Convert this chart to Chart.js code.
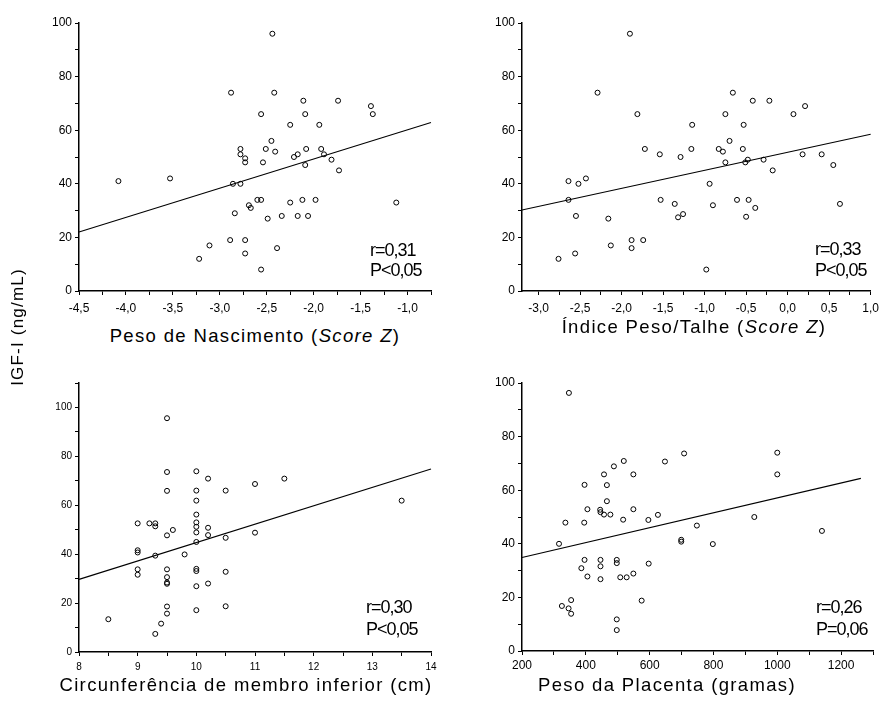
<!DOCTYPE html>
<html><head><meta charset="utf-8">
<script src="https://cdn.jsdelivr.net/npm/chart.js@4"></script>
<style>
html,body{margin:0;padding:0;background:#fff;}
#wrap{position:relative;width:885px;height:703px;overflow:hidden;font-family:Arial,"Liberation Sans",sans-serif;color:#000;}
canvas{position:absolute;}
.t{position:absolute;font-size:18.5px;line-height:20px;letter-spacing:1.35px;white-space:nowrap;transform:translateX(-50%);}
.a{position:absolute;font-size:18px;letter-spacing:-1px;white-space:nowrap;}
.yl{position:absolute;left:-57px;top:317px;width:150px;height:20px;line-height:20px;text-align:center;font-size:17px;letter-spacing:1.2px;transform:rotate(-90deg);white-space:nowrap;}
</style></head>
<body>
<div id="wrap">
<canvas id="c1" width="442" height="320" style="left:0px;top:0px;width:442px;height:320px"></canvas>
<canvas id="c2" width="443" height="320" style="left:442px;top:0px;width:443px;height:320px"></canvas>
<canvas id="c3" width="442" height="320" style="left:0px;top:355px;width:442px;height:320px"></canvas>
<canvas id="c4" width="443" height="320" style="left:442px;top:355px;width:443px;height:320px"></canvas>

<div class="t" style="left:255px;top:326px">Peso de Nascimento (<i>Score Z</i>)</div>
<div class="t" style="left:694px;top:317px">Índice Peso/Talhe (<i>Score Z</i>)</div>
<div class="t" style="left:246px;top:675px">Circunferência de membro inferior (cm)</div>
<div class="t" style="left:667px;top:675px">Peso da Placenta (gramas)</div>
<div class="yl">IGF-I (ng/mL)</div>

<div class="a" style="left:370px;top:240px;line-height:20px">r=0,31<br>P&lt;0,05</div>
<div class="a" style="left:815px;top:239px;line-height:21px">r=0,33<br>P&lt;0,05</div>
<div class="a" style="left:366px;top:596px;line-height:22px">r=0,30<br>P&lt;0,05</div>
<div class="a" style="left:816px;top:596px;line-height:22px">r=0,26<br>P=0,06</div>
</div>
<script>
// ---- Panel 1: Peso de Nascimento (Score Z) vs IGF-I
const p1x = [-4.08,-3.53,-2.88,-2.86,-2.84,-2.89,-3.11,-3.22,-2.44,-2.42,
             -2.11,-1.74,-1.39,-1.37,-2.56,-2.09,-2.25,-1.94,-2.45,-2.78,
             -2.51,-2.78,-2.41,-2.08,-1.92,-2.21,-2.17,-1.89,-2.73,-2.73,
             -2.54,-2.09,-1.81,-1.73,-2.78,-2.60,-2.56,-2.25,-2.12,-1.98,
             -1.12,-2.69,-2.67,-2.49,-2.34,-2.17,-2.06,-2.73,-2.73,-2.39,-2.56];
const p1y = [41,42,74,40,29,19,17,12,96,74,
             71,71,69,66,66,66,62,62,56,53,
             53,51,52,53,53,50,51,51,49.5,48,
             48,47,49,45,40,34,34,33,34,34,
             33,32,31,27,28,28,28,19,14,16,8];
const fit1x = [-4.5, -0.75];
const fit1y = [22, 62.9];

// ---- Panel 2: Índice Peso/Talhe (Score Z) vs IGF-I
const p2x = [-1.90,-2.29,-1.81,-1.72,-1.54,-2.64,-2.52,-2.43,-2.64,-1.53,
             -2.55,-2.16,-2.76,-2.56,-2.13,-1.88,-1.88,-1.74,-0.66,-0.42,
             -0.22,0.21,0.07,-0.75,-1.15,-0.53,-0.70,-1.16,-0.83,-0.78,
             -0.54,-1.29,-0.75,-0.51,-0.48,-0.29,0.18,0.41,0.55,-0.18,
             -0.94,-1.36,-0.90,-0.61,-0.47,-0.39,0.63,-1.32,-1.26,-0.50,-0.98];
const p2y = [96,74,66,53,51,41,40,42,34,34,
             28,27,12,14,17,19,16,19,74,71,
             71,69,66,66,62,62,56,53,53,52,
             53,50,48,48,49,49,51,51,47,45,
             40,32.5,32,34,34,31,32.5,27.5,28.7,27.7,8];
const fit2x = [-3.2, 1.0];
const fit2y = [30.2, 58.5];

// ---- Panel 3: Circunferência de membro inferior (cm) vs IGF-I
const p3x = [8.5,9.5,9.5,9.5,10,10.2,10,10.5,10,10,
             10,10,10,10.2,10.2,10,10.5,9.0,9.2,9.3,
             9.3,9.5,9.6,9.0,9.0,9.3,9.8,9.0,9.0,9.5,
             9.5,9.5,9.5,10,10,10,10.2,10.5,9.5,9.5,
             10,10.5,9.4,9.3,11,11.5,13.5,11];
const p3y = [13.4,95.6,73.6,65.9,73.9,70.9,66,66,61.9,56.2,
             53,51.2,48.9,50.8,47.8,45,46.7,52.6,52.6,52.6,
             51.4,47.7,49.9,41.6,40.7,39.4,39.9,33.8,31.6,33.8,
             30.6,28.4,27.9,34,33.1,26.9,28,32.8,18.6,15.7,
             17.1,18.7,11.6,7.4,68.7,70.9,61.9,48.8];
const fit3x = [8, 14];
const fit3y = [29.7, 74.8];

// ---- Panel 4: Peso da Placenta (gramas) vs IGF-I
const p4x = [347,519,488,457,549,648,396,466,466,336,
             395,405,445,446,457,477,549,517,596,626,
             316,396,386,405,446,446,446,497,497,508,
             528,549,597,575,325,346,354,354,497,497,
             708,1000,1000,928,748,699,699,798,1140];
const p4y = [96.3,70.9,68.9,65.9,65.9,70.7,62,61.9,55.9,47.9,
             47.9,52.9,52.7,51.8,50.9,50.9,52.9,49,48.9,50.8,
             40,34,30.9,27.8,34,31.6,26.8,34,32.8,27.5,
             27.5,28.9,32.6,18.8,16.8,15.9,19,13.9,11.8,7.8,
             73.7,74,65.9,50,46.8,41.5,40.8,39.9,44.8];
const fit4x = [200, 1262];
const fit4y = [34.9, 64.4];

// ---- tick labels
const yLabels = [0,20,40,60,80,100];
const x1Labels = [-4.5,-4.0,-3.5,-3.0,-2.5,-2.0,-1.5,-1.0];
const x2Labels = [-3.0,-2.5,-2.0,-1.5,-1.0,-0.5,0.0,0.5,1.0];
const x3Labels = [8,9,10,11,12,13,14];
const x4Labels = [200,400,600,800,1000,1200];

function steps(a, b, s) { const r = []; for (let v = a; v <= b + 1e-9; v += s) r.push(Math.round(v * 1000) / 1000); return r; }
const FONT = 'Arial, "Liberation Sans", sans-serif';
const hasVal = (arr, v) => arr.some(a => Math.abs(a - v) < 1e-6);
const fmtDec = v => (Math.abs(v) < 1e-9 ? 0 : v).toFixed(1).replace('.', ',');
const fmtInt = v => String(Math.round(v));

function pts(xs, ys) { return xs.map((x, i) => ({ x: x, y: ys[i] })); }

function axis(cfg) {
  return {
    type: 'linear', min: cfg.min, max: cfg.max,
    afterBuildTicks: s => { s.ticks = cfg.ticks.map(v => ({ value: v })); },
    afterFit: s => { if (cfg.w !== undefined) s.width = cfg.w; if (cfg.h !== undefined) s.height = cfg.h; },
    ticks: {
      autoSkip: false, maxRotation: 0, minRotation: 0, padding: cfg.pad, color: '#000',
      font: { family: FONT, size: cfg.fs },
      callback: v => hasVal(cfg.labels, v) ? cfg.fmt(v) : ''
    },
    grid: { drawOnChartArea: false, drawTicks: true, tickLength: 4, color: '#000', tickColor: '#000', lineWidth: 1 },
    border: { display: true, color: '#000', width: 1.5 }
  };
}

function panel(id, xs, ys, fx, fy, xa, ya, padding) {
  new Chart(document.getElementById(id), {
    type: 'scatter',
    data: {
      datasets: [
        { type: 'line', data: pts(fx, fy), borderColor: '#000', borderWidth: 1.1, pointRadius: 0, fill: false, tension: 0, clip: false },
        { data: pts(xs, ys), pointRadius: 2.5, pointBorderWidth: 1, borderColor: '#000', backgroundColor: 'rgba(255,255,255,0)', pointStyle: 'circle', clip: false }
      ]
    },
    options: {
      responsive: false, animation: false, devicePixelRatio: 1,
      layout: { padding: padding },
      plugins: { legend: { display: false }, tooltip: { enabled: false } },
      scales: { x: axis(xa), y: axis(ya) }
    }
  });
}

panel('c1', p1x, p1y, fit1x, fit1y,
  { min: -4.5, max: -0.75, ticks: steps(-4.5, -0.75, 0.25), labels: x1Labels, fmt: fmtDec, h: 29, fs: 12, pad: 6 },
  { min: 0, max: 100, ticks: steps(0, 100, 10), labels: yLabels, fmt: fmtInt, w: 79, fs: 12, pad: 3 },
  { left: 0, right: 11, top: 23, bottom: 0 });

panel('c2', p2x, p2y, fit2x, fit2y,
  { min: -3.2, max: 1.0, ticks: steps(-3.0, 1.0, 0.25), labels: x2Labels, fmt: fmtDec, h: 29, fs: 12, pad: 6 },
  { min: 0, max: 100, ticks: steps(0, 100, 10), labels: yLabels, fmt: fmtInt, w: 80, fs: 12, pad: 3 },
  { left: 0, right: 13, top: 23, bottom: 0 });

panel('c3', p3x, p3y, fit3x, fit3y,
  { min: 8, max: 14, ticks: steps(8, 14, 0.5), labels: x3Labels, fmt: fmtInt, h: 23, fs: 10, pad: 5 },
  { min: 0, max: 110, ticks: steps(0, 110, 10), labels: yLabels, fmt: fmtInt, w: 79, fs: 10, pad: 3 },
  { left: 0, right: 11, top: 28, bottom: 0 });

panel('c4', p4x, p4y, fit4x, fit4y,
  { min: 200, max: 1300, ticks: steps(200, 1300, 100), labels: x4Labels, fmt: fmtInt, h: 24, fs: 12, pad: 3 },
  { min: 0, max: 100, ticks: steps(0, 100, 10), labels: yLabels, fmt: fmtInt, w: 80, fs: 12, pad: 3 },
  { left: 0, right: 12, top: 28, bottom: 0 });
</script>
</body></html>
